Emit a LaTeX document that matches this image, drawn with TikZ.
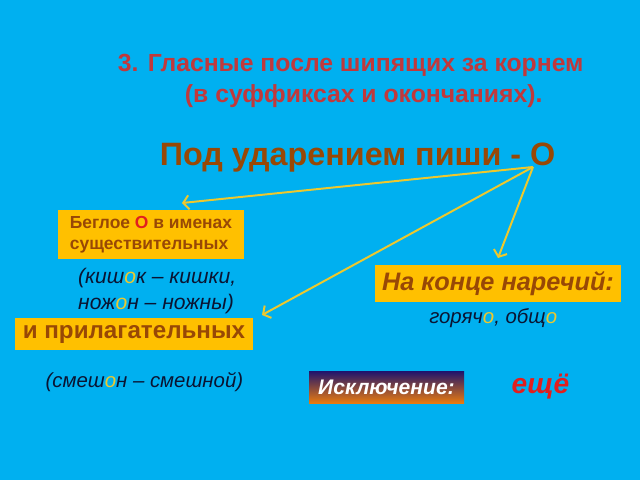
\documentclass[tikz,border=0pt]{standalone}
\usepackage{fontspec}
\setmainfont{Liberation Sans}
\usetikzlibrary{arrows.meta}

\definecolor{sky}{RGB}{0,176,240}
\definecolor{titlered}{RGB}{192,57,60}
\definecolor{rootbrown}{RGB}{152,72,6}
\definecolor{boxgold}{RGB}{255,192,0}
\definecolor{arrowgold}{RGB}{238,200,45}
\definecolor{inkblue}{RGB}{10,20,50}
\definecolor{navy}{RGB}{30,20,110}
\definecolor{rust}{RGB}{232,122,15}
\definecolor{accentred}{RGB}{226,30,30}

\newcommand{\yo}{\textcolor{arrowgold}{о}}

\tikzset{
  rulebox/.style={fill=boxgold, text=rootbrown, inner sep=0pt},
  sample/.style={text=inkblue, font=\itshape\fontsize{14.5}{18.4}\selectfont},
  pointer/.style={draw=arrowgold, line width=1.4pt, -{Straight Barb[length=4pt,width=10pt]}}
}

\begin{document}
\begin{tikzpicture}
\fill[sky] (0,0) rectangle (16,12);

% heading
\node[anchor=west, text=titlered, font=\bfseries\fontsize{17.6}{22}\selectfont] (title1) at (2.825,10.375) {3. Гласные после шипящих за корнем};
\node[anchor=west, text=titlered, font=\bfseries\fontsize{17.6}{22}\selectfont] (title2) at (4.5,9.6) {(в суффиксах и окончаниях).};
\node[text=rootbrown, font=\bfseries\fontsize{23}{27}\selectfont] (rule) at (8.94,8.05) {Под ударением пиши - О};

% boxes
\node[rulebox, minimum width=4.65cm, minimum height=1.225cm, align=left, font=\bfseries\fontsize{12.4}{14.9}\selectfont] (nouns) at (3.775,6.1375) {Беглое \textcolor{accentred}{О} в именах\\существительных};
\node[rulebox, minimum width=5.95cm, minimum height=0.8cm, font=\bfseries\fontsize{17.2}{21}\selectfont] (adjs) at (3.35,3.65) {и прилагательных};
\node[rulebox, minimum width=6.15cm, minimum height=0.925cm, font=\bfseries\itshape\fontsize{18}{22}\selectfont] (advs) at (12.45,4.9125) {На конце наречий:};
\node[top color=navy, bottom color=rust, text=white, minimum width=3.875cm, minimum height=0.8cm, inner sep=0pt, font=\bfseries\itshape\fontsize{15}{18}\selectfont] (exc) at (9.6625,2.325) {Исключение:};

% examples
\node[sample, anchor=west, align=left, font=\itshape\fontsize{15}{18.4}\selectfont] (ex1) at (1.83,4.725) {(киш\yo к -- кишки,\\нож\yo н -- ножны)};
\node[sample] (ex2) at (3.61,2.45) {(смеш\yo н -- смешной)};
\node[sample] (ex3) at (12.33,4.05) {горяч\yo, общ\yo};
\node[text=accentred, font=\bfseries\itshape\fontsize{20}{24}\selectfont] (still) at (13.51,2.325) {ещё};

% arrows
\coordinate (src) at (13.325,7.825);
\coordinate (toNouns) at (4.55,6.925);
\coordinate (toAdjs) at (6.55,4.125);
\coordinate (toAdvs) at (12.45,5.55);
\draw[pointer] (src) -- (toNouns);
\draw[pointer] (src) -- (toAdjs);
\draw[pointer] (src) -- (toAdvs);

\end{tikzpicture}
\end{document}
